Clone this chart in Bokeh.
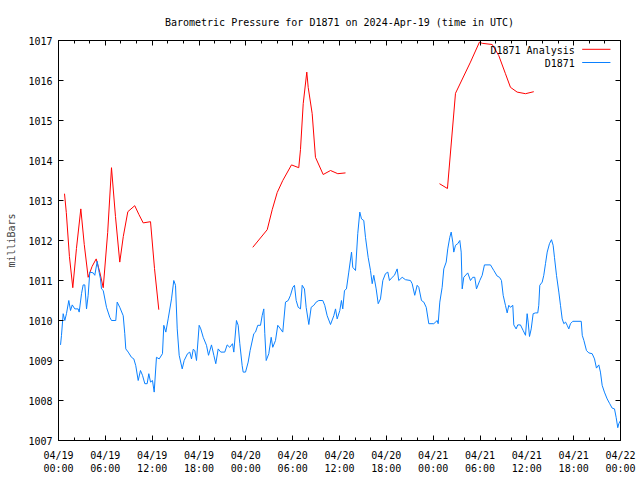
from bokeh.plotting import figure
from bokeh.models import FixedTicker, LinearAxis, Range1d, Label, Arrow
from bokeh.embed import file_html
from bokeh.resources import INLINE

NAN = float("nan")

# Observed station pressure (hours since 2024-04-19 00:00 UTC, mbar)
obs_hours = [0.26, 0.38, 0.60, 0.81, 1.02, 1.32, 1.54, 1.76, 2.09, 2.52, 2.65, 2.95, 3.16, 3.37, 3.59,
             3.80, 4.01, 4.45, 4.65, 4.96, 5.16, 5.38, 5.51, 5.73, 6.15, 6.57, 6.79, 7.34, 7.52, 7.85,
             8.29, 8.49, 8.62, 8.93, 9.35, 9.65, 9.90, 10.21, 10.50, 10.76, 11.06, 11.36, 11.57, 11.79,
             12.04, 12.26, 12.55, 12.90, 13.32, 13.49, 13.75, 14.05, 14.48, 14.77, 14.99, 15.21, 15.46,
             15.85, 16.10, 16.53, 16.82, 17.04, 17.26, 17.46, 17.68, 18.02, 18.23, 18.54, 18.96, 19.22,
             19.60, 19.90, 20.15, 20.46, 20.79, 21.30, 21.61, 21.94, 22.29, 22.46, 22.80, 23.02, 23.23,
             23.53, 23.66, 23.96, 24.30, 24.55, 25.02, 25.24, 25.53, 25.88, 26.09, 26.30, 26.43, 26.61,
             26.94, 27.25, 27.45, 27.80, 28.09, 28.44, 28.73, 29.08, 29.43, 29.72, 30.02, 30.23, 30.45,
             30.71, 31.00, 31.22, 31.51, 31.73, 32.07, 32.37, 32.71, 33.01, 33.35, 33.86, 34.11, 34.42,
             34.85, 35.27, 35.49, 35.70, 36.04, 36.25, 36.42, 36.64, 36.89, 37.19, 37.54, 37.70, 38.05,
             38.34, 38.60, 38.82, 39.11, 39.33, 39.67, 39.97, 40.19, 40.39, 40.70, 40.96, 41.25, 41.55,
             41.89, 42.19, 42.40, 42.75, 43.04, 43.39, 43.59, 44.03, 44.45, 45.09, 45.31, 45.64, 45.95,
             46.16, 46.50, 46.80, 47.11, 47.44, 48.08, 48.52, 48.64, 48.85, 49.15, 49.36, 49.67, 49.87,
             50.13, 50.31, 50.51, 50.64, 50.86, 51.15, 51.41, 51.59, 51.72, 51.92, 52.43, 52.78, 53.07,
             53.33, 53.55, 53.97, 54.28, 54.57, 55.34, 55.77, 56.20, 56.50, 56.75, 56.97, 57.26, 57.48,
             57.69, 57.90, 58.20, 58.33, 58.63, 58.84, 59.18, 59.53, 59.83, 60.04, 60.17, 60.34, 60.56,
             60.81, 61.11, 61.40, 61.53, 61.66, 61.97, 62.17, 62.39, 62.61, 62.90, 63.16, 63.37, 63.54,
             63.80, 64.10, 64.31, 64.53, 64.74, 64.96, 65.17, 65.38, 65.59, 65.89, 66.97, 67.10, 67.31,
             67.64, 67.94, 68.37, 68.67, 68.92, 69.22, 69.43, 69.65, 69.94, 70.29, 70.62, 70.93, 71.23,
             71.44, 71.65, 71.78, 72.00]
obs_pressure = [1009.39, 1009.62, 1010.17, 1010.00, 1010.17, 1010.50, 1010.25, 1010.39, 1010.29, 1010.29,
                1010.21, 1010.67, 1010.89, 1010.89, 1010.29, 1010.63, 1011.21, 1011.19, 1011.13, 1011.48,
                1011.25, 1011.04, 1010.79, 1010.75, 1010.33, 1010.08, 1010.00, 1010.00, 1010.46, 1010.33,
                1010.12, 1009.67, 1009.29, 1009.21, 1009.08, 1009.04, 1008.87, 1008.50, 1008.75, 1008.63,
                1008.42, 1008.42, 1008.67, 1008.46, 1008.50, 1008.21, 1009.08, 1009.04, 1009.17, 1009.88,
                1009.71, 1010.04, 1010.54, 1011.00, 1010.88, 1009.79, 1009.13, 1008.79, 1009.00, 1009.17,
                1009.21, 1009.04, 1009.28, 1009.25, 1009.00, 1009.88, 1009.79, 1009.58, 1009.38, 1009.13,
                1009.39, 1009.13, 1008.92, 1009.29, 1009.21, 1009.21, 1009.39, 1009.33, 1009.42, 1009.21,
                1010.00, 1009.88, 1009.42, 1008.87, 1008.71, 1008.71, 1008.96, 1009.25, 1009.67, 1009.71,
                1009.88, 1009.88, 1010.12, 1010.29, 1009.67, 1009.00, 1009.17, 1009.58, 1009.33, 1009.50,
                1009.88, 1009.79, 1009.71, 1010.46, 1010.50, 1010.63, 1010.83, 1010.88, 1010.50, 1010.33,
                1010.29, 1010.88, 1010.79, 1010.33, 1009.90, 1010.33, 1010.38, 1010.46, 1010.50, 1010.50,
                1010.38, 1010.12, 1009.90, 1010.12, 1010.29, 1010.04, 1010.25, 1010.50, 1010.29, 1010.75,
                1010.79, 1011.21, 1011.71, 1011.33, 1011.25, 1012.17, 1012.71, 1012.54, 1012.50, 1012.08,
                1011.58, 1011.25, 1010.92, 1011.13, 1010.79, 1010.42, 1010.54, 1011.00, 1011.17, 1011.21,
                1011.00, 1011.08, 1011.13, 1011.29, 1011.00, 1011.08, 1011.02, 1011.00, 1010.92, 1010.63,
                1010.88, 1010.83, 1010.50, 1010.46, 1010.33, 1009.92, 1009.92, 1010.00, 1009.92, 1010.46,
                1010.83, 1011.29, 1011.46, 1011.79, 1012.08, 1012.21, 1011.96, 1011.71, 1011.88, 1011.92,
                1012.00, 1011.71, 1010.79, 1011.08, 1011.19, 1011.00, 1011.08, 1011.08, 1010.79, 1011.00,
                1011.13, 1011.39, 1011.39, 1011.25, 1011.11, 1011.08, 1011.00, 1010.63, 1010.38, 1010.19,
                1010.38, 1010.33, 1010.38, 1009.89, 1009.79, 1009.89, 1009.89, 1009.75, 1009.63, 1010.17,
                1009.96, 1009.60, 1009.79, 1010.17, 1010.19, 1010.19, 1010.38, 1010.88, 1010.96, 1011.13,
                1011.42, 1011.71, 1011.92, 1012.02, 1011.88, 1011.58, 1011.13, 1010.71, 1010.38, 1010.04,
                1009.92, 1009.96, 1009.88, 1009.79, 1009.92, 1009.98, 1009.98, 1009.63, 1009.50, 1009.25,
                1009.19, 1009.17, 1009.04, 1008.81, 1008.89, 1008.71, 1008.38, 1008.21, 1008.04, 1007.92,
                1007.81, 1007.79, 1007.58, 1007.32, 1007.42, 1007.50]

# Analysis pressure (NaN separates the three analysis runs)
analysis_hours = [0.77, 1.00, 1.40, 1.83, 2.30, 2.86, 3.30, 3.80, 4.30, 4.83, 5.30, 5.73, 6.30, 6.79,
                  7.30, 7.85, 8.30, 8.88, 9.77, 10.30, 10.85, 11.79, 12.30, 12.85, NAN,
                  24.89, 26.74, 27.38, 28.02, 28.73, 29.85, 30.78, 31.00, 31.35, 31.81, 31.99, 32.50,
                  32.92, 33.91, 34.85, 35.78, 36.77, NAN,
                  48.81, 49.83, 50.86, 52.78, 53.93, 54.28, 55.56, 56.41, 57.26, 57.90, 58.76, 59.83,
                  60.89]
analysis_pressure = [1013.17, 1012.70, 1011.60, 1010.82, 1011.80, 1012.79, 1011.90, 1011.08, 1011.35,
                     1011.54, 1011.20, 1010.82, 1012.20, 1013.82, 1012.60, 1011.46, 1012.10, 1012.72,
                     1012.87, 1012.65, 1012.44, 1012.47, 1011.30, 1010.27, NAN,
                     1011.83, 1012.27, 1012.77, 1013.20, 1013.50, 1013.89, 1013.82, 1014.27, 1015.42,
                     1016.21, 1015.83, 1015.17, 1014.08, 1013.65, 1013.75, 1013.67, 1013.69, NAN,
                     1013.42, 1013.30, 1015.68, 1016.46, 1016.96, 1016.93, 1016.90, 1016.62, 1016.17,
                     1015.83, 1015.71, 1015.67, 1015.72]

x_ticks = [0, 6, 12, 18, 24, 30, 36, 42, 48, 54, 60, 66, 72]
x_tick_labels = ["04/19\n00:00", "04/19\n06:00", "04/19\n12:00", "04/19\n18:00",
                 "04/20\n00:00", "04/20\n06:00", "04/20\n12:00", "04/20\n18:00",
                 "04/21\n00:00", "04/21\n06:00", "04/21\n12:00", "04/21\n18:00",
                 "04/22\n00:00"]
x_minor_ticks = [h for h in range(0, 73, 2) if h % 6 != 0]
y_ticks = [1007, 1008, 1009, 1010, 1011, 1012, 1013, 1014, 1015, 1016, 1017]

series_names = ["D1871 Analysis", "D1871"]
series_colors = ["#ff0000", "#0a80ff"]

FONT = "DejaVu Sans Mono"
FS = "10px"

p = figure(width=640, height=480, output_backend="svg", toolbar_location=None,
           x_range=Range1d(0, 72), y_range=Range1d(1007, 1017),
           min_border_left=58, min_border_right=20, min_border_top=40, min_border_bottom=40)

p.title.text = "Barometric Pressure for D1871 on 2024-Apr-19 (time in UTC)"
p.title.align = "center"
p.title.text_font = FONT
p.title.text_font_size = FS
p.title.text_font_style = "normal"
p.title.text_color = "black"
p.title.standoff = 25

p.grid.visible = False
p.outline_line_color = "black"
p.outline_line_width = 1
p.background_fill_color = "white"
p.border_fill_color = "white"

def style_axis(ax, labels=True):
    ax.axis_line_color = "black"
    ax.major_tick_line_color = "black"
    ax.minor_tick_line_color = "black"
    ax.major_tick_in = 5
    ax.major_tick_out = 0
    ax.minor_tick_in = 3
    ax.minor_tick_out = 0
    ax.major_label_text_font = FONT
    ax.major_label_text_font_size = FS
    ax.major_label_text_color = "black"
    ax.major_label_standoff = 6 if labels else 0

xt = FixedTicker(ticks=x_ticks, minor_ticks=x_minor_ticks)
yt = FixedTicker(ticks=y_ticks, minor_ticks=[])

p.xaxis.ticker = xt
p.xaxis.major_label_overrides = {t: lab for t, lab in zip(x_ticks, x_tick_labels)}
style_axis(p.xaxis[0])
p.xaxis.major_label_standoff = 9

p.yaxis.ticker = yt
style_axis(p.yaxis[0])
p.yaxis.axis_label = "milliBars"
p.yaxis.axis_label_text_font = FONT
p.yaxis.axis_label_text_font_size = FS
p.yaxis.axis_label_text_font_style = "normal"
p.yaxis.axis_label_standoff = 8

# mirrored tick marks on the top and right borders (no labels)
top = LinearAxis(ticker=FixedTicker(ticks=x_ticks, minor_ticks=x_minor_ticks))
style_axis(top, labels=False)
top.major_label_overrides = {t: "" for t in x_ticks}
p.add_layout(top, "above")
right = LinearAxis(ticker=FixedTicker(ticks=y_ticks, minor_ticks=[]))
style_axis(right, labels=False)
right.major_label_overrides = {t: "" for t in y_ticks}
p.add_layout(right, "right")

p.line(analysis_hours, analysis_pressure, line_color=series_colors[0], line_width=1)
p.line(obs_hours, obs_pressure, line_color=series_colors[1], line_width=1)

# gnuplot-style key: text right-aligned, sample line to its right
key_text_x = 66.14
key_line_x = (67.09, 70.71)
key_rows = [1016.76, 1016.43]
for name, color, yrow in zip(series_names, series_colors, key_rows):
    p.add_layout(Label(x=key_text_x, y=yrow, text=name, text_align="right", text_baseline="middle",
                       text_font=FONT, text_font_size=FS, text_color="black"))
    p.add_layout(Arrow(end=None, x_start=key_line_x[0], y_start=yrow + 0.02, x_end=key_line_x[1],
                       y_end=yrow + 0.02, line_color=color, line_width=1))

open("out.html", "w").write(file_html(p, INLINE))
